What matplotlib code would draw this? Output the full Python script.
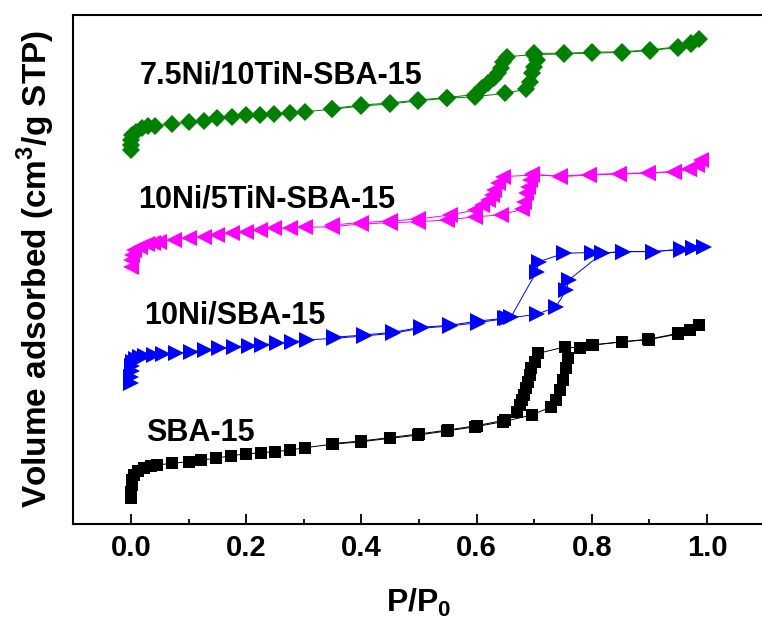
import matplotlib

matplotlib.use("Agg")

import matplotlib.pyplot as plt

plt.rcParams["font.family"] = ["Liberation Sans", "DejaVu Sans"]
plt.rcParams["font.weight"] = "bold"
plt.rcParams["mathtext.fontset"] = "custom"
plt.rcParams["mathtext.rm"] = "Liberation Sans:bold"
plt.rcParams["mathtext.bf"] = "Liberation Sans:bold"

# isotherms, stacked with offsets (arbitrary volume units)
sba_ads_x = [0.0, 0.0005, 0.001, 0.002, 0.005, 0.012, 0.023, 0.034, 0.045, 0.072,
             0.10, 0.122, 0.148, 0.173, 0.199, 0.225, 0.25, 0.276, 0.302, 0.349,
             0.40, 0.45, 0.499, 0.548, 0.598, 0.646, 0.696, 0.73, 0.738, 0.744,
             0.75, 0.756, 0.759, 0.753, 0.78, 0.802, 0.852, 0.898, 0.95, 0.97, 0.986]
sba_ads_y = [26, 32, 39, 44, 49, 53, 56, 58, 59, 60.7,
             62.3, 64, 65.7, 68.3, 70, 71.3, 72.3, 74, 76.3, 79.7,
             82.3, 85.7, 89, 93, 97.3, 102.3, 109, 117.3, 124, 134,
             144, 155.7, 165.7, 177.3, 175.7, 179, 182.3, 184.7, 190.7, 194, 199]
sba_des_x = [0.97, 0.95, 0.90, 0.852, 0.80, 0.78, 0.753, 0.707, 0.701, 0.695,
             0.693, 0.69, 0.686, 0.682, 0.678, 0.675, 0.670, 0.65, 0.60, 0.55,
             0.50, 0.45, 0.40, 0.35]
sba_des_y = [194, 190, 184.5, 182, 179, 176, 177, 170.7, 162.3, 155.7,
             149, 142.3, 135.7, 129, 124, 119, 112.3, 104, 98.3, 94,
             90, 86.5, 83, 80.5]

ni_ads_x = [0.0, 0.0005, 0.001, 0.002, 0.004, 0.008, 0.015, 0.025, 0.04, 0.055,
            0.078, 0.104, 0.128, 0.153, 0.179, 0.204, 0.228, 0.254, 0.28, 0.305,
            0.353, 0.404, 0.455, 0.503, 0.554, 0.602, 0.653, 0.704, 0.737, 0.756,
            0.76, 0.818, 0.855, 0.906, 0.954, 0.976, 0.994]
ni_ads_y = [141, 147, 153, 158, 162, 165, 167, 168.5, 169.5, 170,
            171, 172.3, 174, 175.7, 177.3, 178.3, 179.3, 180.7, 182, 184,
            185.7, 188, 190.7, 195.7, 198, 201.3, 205.7, 209.7, 216.7, 234,
            244, 270.7, 272.3, 272.3, 274.7, 275.7, 276.7]
ni_des_x = [0.976, 0.954, 0.906, 0.855, 0.818, 0.80, 0.752, 0.708, 0.704, 0.66,
            0.649, 0.602, 0.554, 0.503, 0.455, 0.404, 0.353]
ni_des_y = [275.7, 274.5, 272.5, 272.5, 271, 271.5, 270.7, 262.3, 252.3, 207.3,
            205.7, 203, 198.7, 196.7, 191.7, 189, 186.7]

ni5_ads_x = [0.0, 0.0003, 0.001, 0.005, 0.016, 0.027, 0.038, 0.049, 0.074, 0.10,
             0.126, 0.15, 0.175, 0.199, 0.224, 0.249, 0.276, 0.302, 0.349, 0.40,
             0.45, 0.499, 0.548, 0.598, 0.642, 0.679, 0.682, 0.686, 0.69, 0.693,
             0.697, 0.745, 0.796, 0.847, 0.898, 0.942, 0.968, 0.983, 0.99]
ni5_ads_y = [257.3, 264, 269, 274, 277.3, 280, 281.3, 282.3, 284, 285.7,
             287.3, 289, 290.7, 292.3, 294, 295.7, 295.7, 296.7, 297.3, 300,
             301.3, 302.3, 304, 307.3, 309, 314.7, 322.3, 330.7, 337.3, 344,
             350, 347.3, 349, 350, 350.7, 352.3, 354.7, 359, 364]
ni5_des_x = [0.968, 0.942, 0.898, 0.847, 0.796, 0.745, 0.697, 0.646, 0.638, 0.631,
             0.627, 0.62, 0.609, 0.598, 0.554, 0.499, 0.45, 0.40, 0.349]
ni5_des_y = [355, 352.5, 351, 350.5, 349.5, 348, 349, 347.3, 340.7, 334,
             329, 324, 319, 314, 309, 305, 303, 301.5, 299]

ni10_ads_x = [0.0, 0.0003, 0.0005, 0.002, 0.008, 0.019, 0.03, 0.041, 0.071, 0.10,
              0.126, 0.15, 0.175, 0.199, 0.224, 0.249, 0.276, 0.302, 0.349, 0.40,
              0.45, 0.499, 0.548, 0.598, 0.649, 0.686, 0.693, 0.697, 0.699, 0.704,
              0.70, 0.752, 0.80, 0.852, 0.901, 0.95, 0.973, 0.986]
ni10_ads_y = [374, 379, 384, 389, 392.3, 395.7, 398, 398.5, 399.7, 402.3,
              403, 405.7, 407.3, 409, 409.5, 410, 410.7, 412.3, 414.7, 418,
              420, 423.3, 425.7, 427.3, 430.7, 434.7, 442.3, 450.7, 457.3, 464,
              470.7, 470.7, 471.7, 472.3, 474, 477.3, 480.7, 484.7]
ni10_des_x = [0.973, 0.95, 0.901, 0.852, 0.80, 0.752, 0.70, 0.653, 0.646, 0.642,
              0.638, 0.631, 0.62, 0.609, 0.598, 0.548, 0.499, 0.45, 0.40, 0.349]
ni10_des_y = [480, 476.5, 473.5, 471.5, 471, 470, 469.5, 467.3, 462.3, 455.7,
              450.7, 445.7, 440.7, 435.7, 429.5, 426.5, 424, 421, 419, 415.5]

labels = ["SBA-15", "10Ni/SBA-15", "10Ni/5TiN-SBA-15", "7.5Ni/10TiN-SBA-15"]
label_x = [0.026, 0.023, 0.012, 0.016]
label_y = [91, 209, 324, 449]

fig = plt.figure(figsize=(7.62, 6.25), dpi=100)
ax = fig.add_axes([73.4 / 762, 101 / 625, 691.2 / 762, 509.3 / 625])

series = [
    (sba_ads_x, sba_ads_y, sba_des_x, sba_des_y, "black", "s", 8.5),
    (ni_ads_x, ni_ads_y, ni_des_x, ni_des_y, "#0000ff", ">", 11),
    (ni5_ads_x, ni5_ads_y, ni5_des_x, ni5_des_y, "#ff00ff", "<", 11),
    (ni10_ads_x, ni10_ads_y, ni10_des_x, ni10_des_y, "#008000", "D", 9.5),
]
for ax_x, ax_y, de_x, de_y, color, marker, ms in series:
    ax.plot(ax_x, ax_y, color=color, marker=marker, ms=ms, lw=0.7,
            markeredgewidth=0)
    ax.plot(de_x, de_y, color=color, marker=marker, ms=ms, lw=0.7,
            markeredgewidth=0)

for text, tx, ty in zip(labels, label_x, label_y):
    ax.text(tx, ty, text, fontsize=22, fontweight="bold", ha="left", va="center")

ax.set_xlim(-0.1, 1.1)
ax.set_ylim(0, 509.3)
ax.set_xticks([0.0, 0.2, 0.4, 0.6, 0.8, 1.0])
ax.set_xticks([0.1, 0.3, 0.5, 0.7, 0.9], minor=True)
ax.set_xticklabels(["0.0", "0.2", "0.4", "0.6", "0.8", "1.0"])
ax.set_yticks([])
ax.tick_params(axis="x", which="major", direction="in", length=7, width=1.3,
               labelsize=21, pad=7)
ax.tick_params(axis="x", which="minor", direction="in", length=3.5, width=1.3)
for lab in ax.get_xticklabels():
    lab.set_fontweight("bold")
for sp in ax.spines.values():
    sp.set_linewidth(1.5)

ax.set_xlabel(r"$\mathbf{P/P_0}$", fontsize=23, labelpad=18)
ax.set_ylabel(r"Volume adsorbed (cm$^\mathbf{3}$/g STP)", fontsize=24,
              fontweight="bold", labelpad=12)

plt.savefig("out.png", dpi=100)
plt.close()
